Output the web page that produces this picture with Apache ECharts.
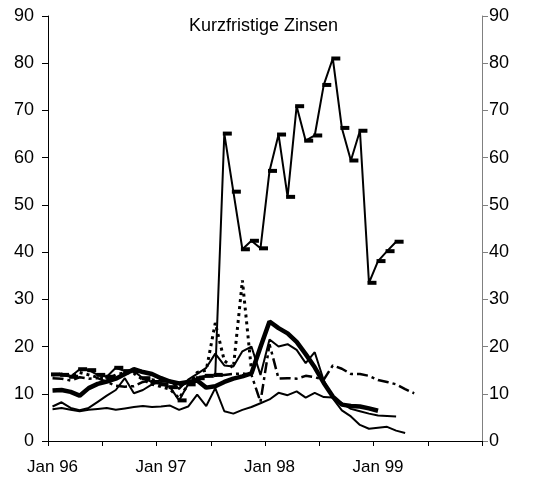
<!DOCTYPE html>
<html>
<head>
<meta charset="utf-8">
<script src="https://cdn.jsdelivr.net/npm/echarts@6/dist/echarts.min.js"></script>
<style>
  html, body { margin: 0; padding: 0; background: #fff; }
  #chart { width: 550px; height: 480px; }
</style>
</head>
<body>
<div id="chart"></div>
<script>
  // Monatsachse Jan 96 .. Dez 99
  var months = ['Jan', 'Feb', 'Mar', 'Apr', 'May', 'Jun', 'Jul', 'Aug', 'Sep', 'Oct', 'Nov', 'Dec'];
  var years = ['96', '97', '98', '99'];
  var categories = [];
  years.forEach(function (y) {
    months.forEach(function (m) { categories.push(m + ' ' + y); });
  });

  var yTicks = [0, 10, 20, 30, 40, 50, 60, 70, 80, 90];

  // Reihen
  var markedSeries = [14.1, 14.0, 13.6, 15.2, 15.0, 14.0, 13.6, 15.5, 14.8, 14.8, 13.3, 12.5, 12.0, 11.4, 8.6, 12.0,
    13.3, 13.8, 14.0, 65.1, 52.8, 40.6, 42.4, 40.8, 57.2, 64.9, 51.7, 70.9, 63.6, 64.7, 75.4, 81.0, 66.3, 59.4,
    65.7, 33.5, 38.1, 40.2, 42.2];
  var thickSeries = [10.7, 10.8, 10.4, 9.6, 11.2, 12.1, 12.6, 13.2, 14.2, 15.2, 14.6, 14.2, 13.3, 12.6, 12.2, 12.5,
    12.8, 11.3, 11.6, 12.5, 13.2, 13.7, 14.3, 19.9, 25.3, 23.9, 22.8, 21.0, 18.4, 15.6, 12.3, 9.4, 7.7, 7.4, 7.3,
    6.9, 6.4];
  var lowSeries = [6.7, 7.0, 6.6, 6.3, 6.6, 6.8, 7.0, 6.6, 6.9, 7.2, 7.4, 7.2, 7.3, 7.5, 6.6, 7.3, 9.8, 7.4, 11.2,
    6.3, 5.8, 6.6, 7.2, 8.0, 8.8, 10.2, 9.7, 10.5, 9.2, 10.2, 9.3, 9.2, 8.0, 6.8, 6.3, 5.8, 5.4, 5.3, 5.2];
  var thinSeries = [7.3, 8.2, 7.0, 6.5, 7.0, 8.3, 9.6, 10.8, 13.3, 10.1, 10.8, 12.0, 12.5, 12.8, 11.0, 13.0, 14.2,
    15.5, 18.5, 16.0, 15.8, 19.0, 20.0, 14.0, 21.5, 20.0, 20.5, 19.3, 16.5, 18.8, 12.8, 9.0, 6.5, 5.2, 3.4, 2.6,
    2.8, 3.0, 2.2, 1.7];
  var dashDotSeries = [13.3, 13.2, 12.8, 13.5, 13.2, 13.3, 12.5, 11.7, 11.5, 11.6, 12.5, 13.0, 12.8, 12.5, 11.5, 12.5,
    13.5, 13.7, 13.8, 14.0, 14.2, 14.3, 14.0, 8.3, 20.5, 13.2, 13.3, 13.2, 13.8, 13.5, 13.0, 16.0, 15.3, 14.2,
    14.2, 13.8, 12.9, 12.5, 12.0, 11.0, 10.1];
  var dottedSeries = [14.0, 14.2, 13.8, 14.5, 14.0, 13.5, 13.0, 14.0, 14.5, 14.3, 13.0, 12.0, 11.5, 11.0, 9.0, 12.0,
    14.5, 15.0, 25.0, 17.0, 15.5, 34.0, 15.0];

  var font = 'Liberation Sans, Arial, sans-serif';

  function yAxis(pos, lineColor, margin) {
    return {
      type: 'value',
      position: pos,
      min: yTicks[0],
      max: yTicks[yTicks.length - 1],
      interval: 10,
      splitLine: { show: false },
      axisLine: { show: true, lineStyle: { color: lineColor, width: 1 } },
      axisTick: { show: true, length: 6, lineStyle: { color: lineColor } },
      axisLabel: { color: '#000', fontSize: 18, fontFamily: font, margin: margin }
    };
  }

  function line(data, width, type, extra) {
    var s = {
      type: 'line',
      data: data,
      symbol: 'none',
      smooth: false,
      animation: false,
      lineStyle: { color: '#000', width: width, type: type }
    };
    return Object.assign(s, extra || {});
  }

  var chart = echarts.init(document.getElementById('chart'));
  chart.setOption({
    backgroundColor: '#fff',
    animation: false,
    title: {
      text: 'Kurzfristige Zinsen',
      left: 184,
      top: 12,
      textStyle: { color: '#000', fontSize: 18, fontWeight: 'normal', fontFamily: font }
    },
    grid: { left: 48, right: 68, top: 16, bottom: 39 },
    xAxis: {
      type: 'category',
      data: categories,
      boundaryGap: true,
      axisLine: { show: true, lineStyle: { color: '#000', width: 1 } },
      axisTick: {
        show: true,
        length: 5,
        interval: function (index) { return index % 6 === 0; },
        lineStyle: { color: '#000', width: 1 }
      },
      axisLabel: {
        interval: 11,
        color: '#000',
        fontSize: 17,
        fontFamily: font,
        margin: 18
      }
    },
    yAxis: [yAxis('left', '#000', 14), yAxis('right', '#808080', 7)],
    series: [
      line(dottedSeries, 3, [3, 4]),
      line(dashDotSeries, 2.5, [11, 4, 3, 4]),
      line(lowSeries, 2, 'solid'),
      line(thinSeries, 2, 'solid'),
      line(thickSeries, 4.5, 'solid'),
      line(markedSeries, 2, 'solid', {
        symbol: 'rect',
        symbolSize: [9, 4],
        symbolOffset: [3, 0],
        showSymbol: true,
        showAllSymbol: true,
        itemStyle: { color: '#000' }
      })
    ]
  });
</script>
</body>
</html>
